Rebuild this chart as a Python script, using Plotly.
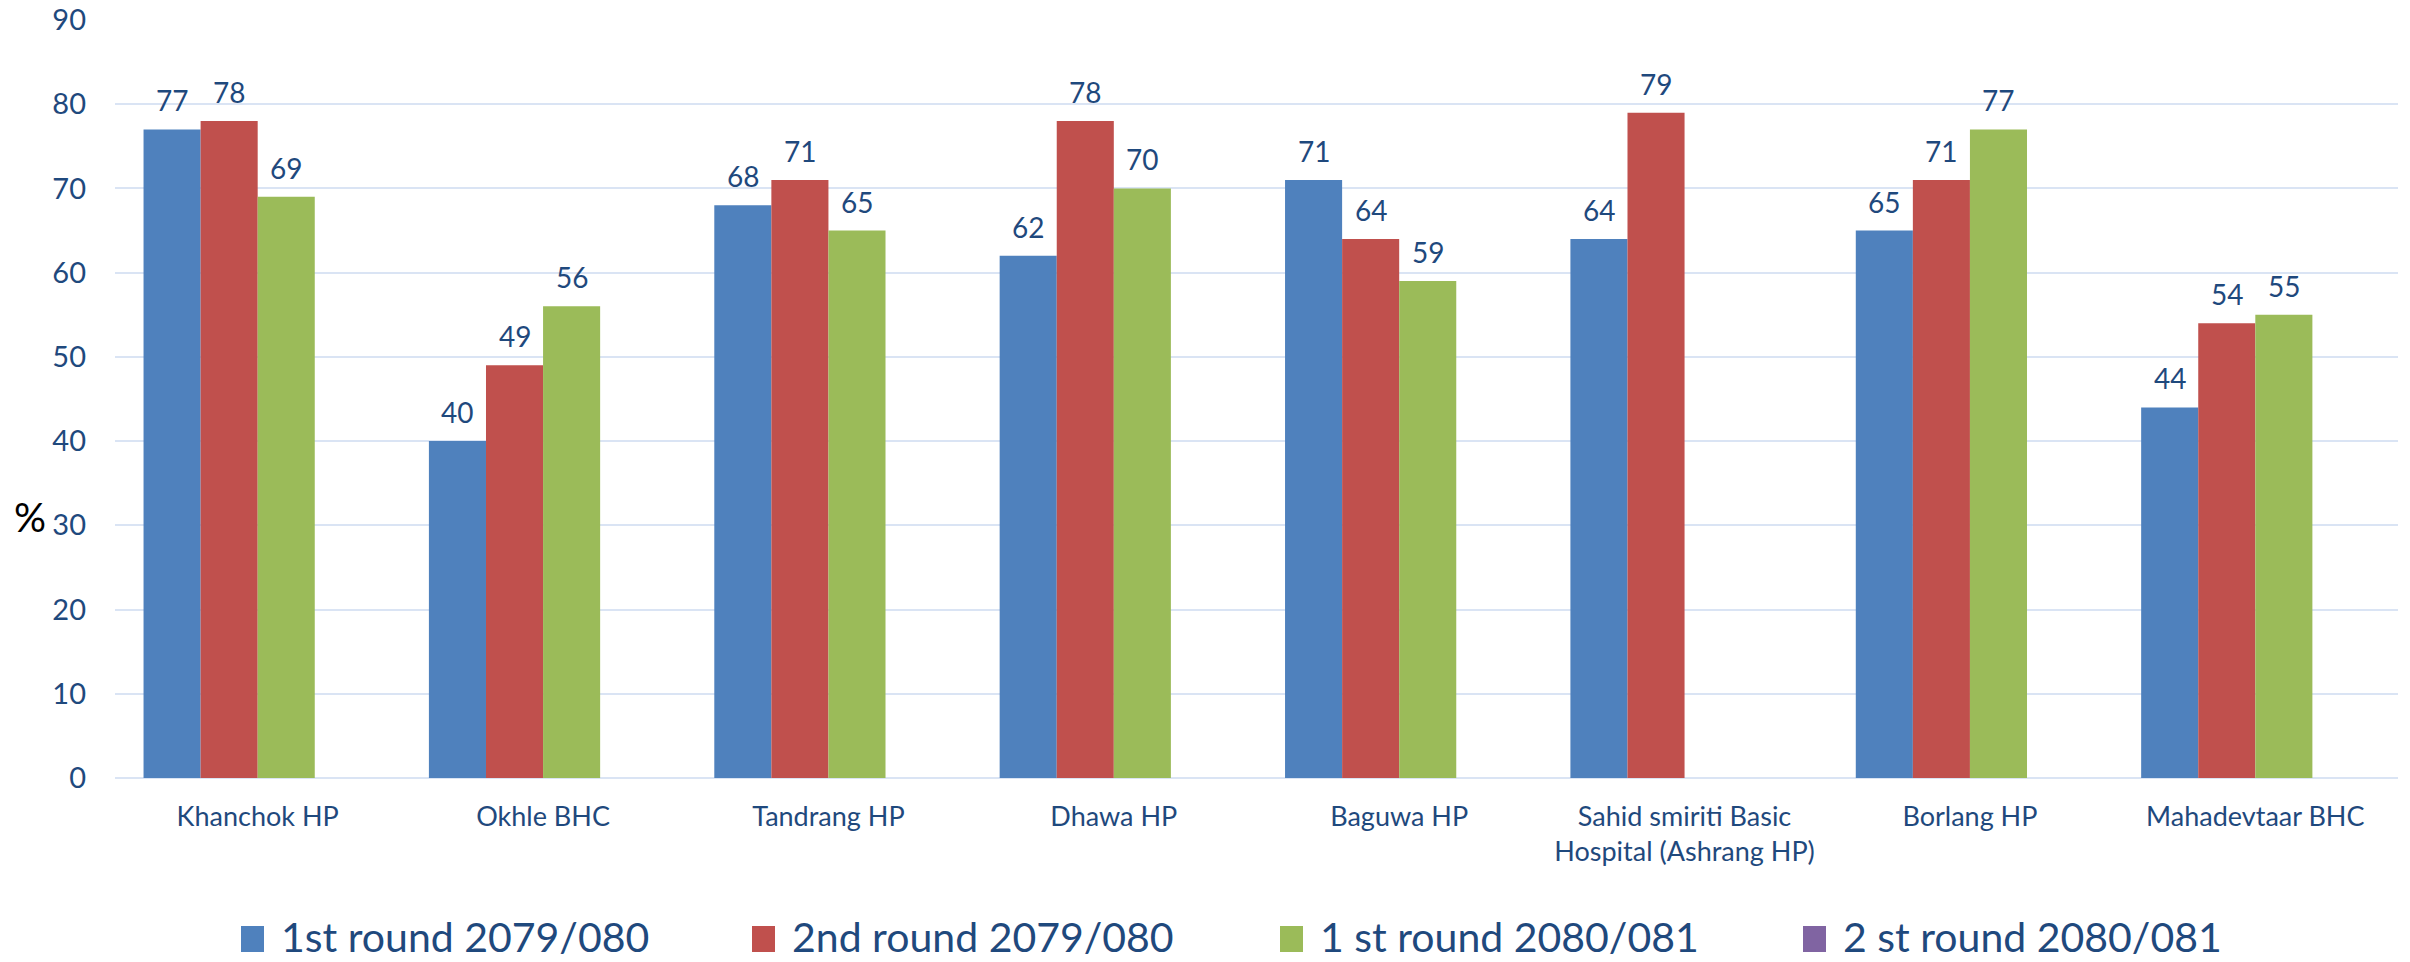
import plotly.graph_objects as go

categories = ["Khanchok HP", "Okhle BHC", "Tandrang HP", "Dhawa HP", "Baguwa HP",
              "Sahid smiriti Basic<br>Hospital (Ashrang HP)", "Borlang HP", "Mahadevtaar BHC"]
series_names = ["1st round 2079/080", "2nd round 2079/080", "1 st round 2080/081", "2 st round 2080/081"]
round1_2079 = [77, 40, 68, 62, 71, 64, 65, 44]
round2_2079 = [78, 49, 71, 78, 64, 79, 71, 54]
round1_2080 = [69, 56, 65, 70, 59, None, 77, 55]
round2_2080 = [None, None, None, None, None, None, None, None]
y_ticks = [0, 10, 20, 30, 40, 50, 60, 70, 80, 90]

series_values = [round1_2079, round2_2079, round1_2080, round2_2080]
colors = ["#4f81bd", "#c0504d", "#9bbb59", "#8064a2"]
text_color = "#1f497d"
FONT = "Lato"

W, H = 2410, 962
L, R, T, B = 115, 12, 20, 184
pw, ph = W - L - R, H - T - B

def px_x(px):
    return (px - L) / pw

def px_y(py):
    return (H - B - py) / ph

fig = go.Figure()
for name, vals, col in zip(series_names, series_values, colors):
    fig.add_trace(go.Bar(x=categories, y=vals, name=name, marker=dict(color=col, line=dict(width=0)),
                         showlegend=False))

# data labels
n_series = len(series_names)
cat_w = pw / len(categories)
bar_w = cat_w * 0.8 / n_series
for si, vals in enumerate(series_values):
    shift = (si - (n_series - 1) / 2) * bar_w
    for c, v in zip(categories, vals):
        if v is None:
            continue
        fig.add_annotation(x=c, y=v, xref="x", yref="y", text=str(v), showarrow=False,
                           xshift=shift, yshift=10, yanchor="bottom",
                           font=dict(family=FONT, size=28, color=text_color))

# manual legend
legend_x = [241, 752, 1280, 1803]
for name, col, lx in zip(series_names, colors, legend_x):
    fig.add_shape(type="rect", xref="paper", yref="paper",
                  x0=px_x(lx), x1=px_x(lx + 23), y0=px_y(952), y1=px_y(926),
                  fillcolor=col, line=dict(width=0))
    fig.add_annotation(xref="paper", yref="paper", x=px_x(lx + 38), y=px_y(936),
                       xanchor="left", yanchor="middle", text=name, showarrow=False,
                       font=dict(family=FONT, size=41, color=text_color))

# % axis label
fig.add_annotation(xref="paper", yref="paper", x=px_x(30), y=px_y(517), text="%",
                   showarrow=False, xanchor="center", yanchor="middle",
                   font=dict(family=FONT, size=40, color="black"))

fig.update_layout(
    width=W, height=H,
    margin=dict(l=L, r=R, t=T, b=B, autoexpand=False),
    paper_bgcolor="white", plot_bgcolor="white",
    barmode="group", bargap=0.2, bargroupgap=0,
    showlegend=False,
    font=dict(family=FONT, color=text_color),
)
fig.update_yaxes(range=[0, 90], tickvals=y_ticks, showgrid=True, gridcolor="#dae4f4", gridwidth=2,
                 zeroline=True, zerolinecolor="#dae4f4", zerolinewidth=2, automargin=False,
                 tickfont=dict(family=FONT, size=29, color=text_color), ticklabelstandoff=28,
                 showline=False)
fig.update_xaxes(tickfont=dict(family=FONT, size=27, color=text_color), ticklabelstandoff=20,
                 showline=False, showgrid=False, automargin=False)

fig.write_html("out.html", config={"displayModeBar": False},
               post_script="document.body.style.margin='0';document.body.style.overflow='hidden';")
